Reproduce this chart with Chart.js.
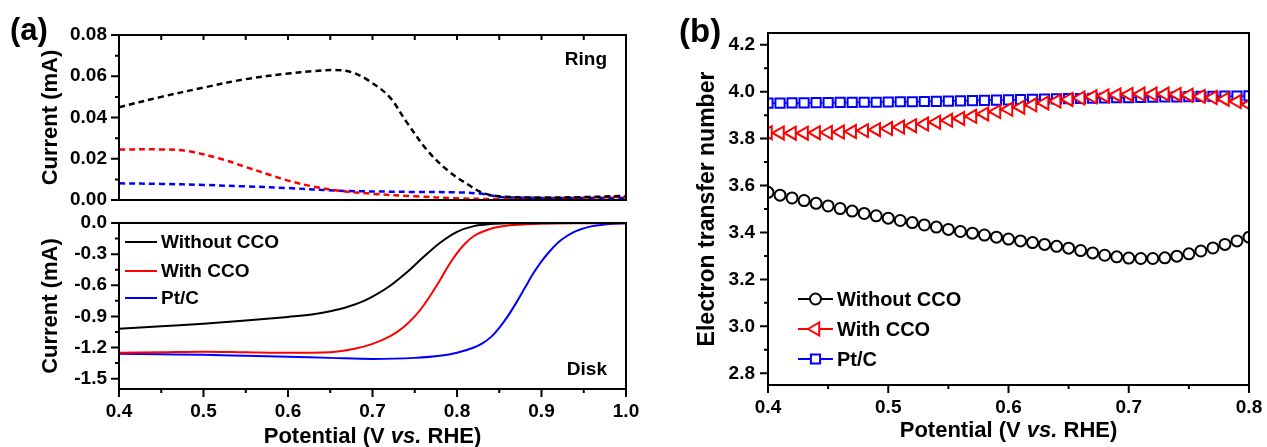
<!DOCTYPE html>
<html>
<head>
<meta charset="utf-8">
<title>RRDE</title>
<script src="https://cdn.jsdelivr.net/npm/chart.js@4.4.1/dist/chart.umd.min.js"></script>
<style>
  body { margin: 0; background: #fff; }
  #wrap { position: relative; width: 1267px; height: 447px; overflow: hidden; background: #fff; }
  canvas { position: absolute; }
  .panel { position: absolute; font-family: "Liberation Sans", Arial, sans-serif; font-weight: bold; color: #000; line-height: 1; }
</style>
</head>
<body>
<div id="wrap">
  <canvas id="ringChart" width="640" height="212" style="left:0;top:0"></canvas>
  <canvas id="diskChart" width="640" height="235" style="left:0;top:212px"></canvas>
  <canvas id="ntChart" width="627" height="447" style="left:640px;top:0"></canvas>
  <div class="panel" style="left:10px;top:14px;font-size:31px">(a)</div>
  <div class="panel" style="left:679px;top:14px;font-size:33px">(b)</div>
</div>
<script>
// series names and colours
const seriesNames = ['Without CCO', 'With CCO', 'Pt/C'];
const seriesColors = ['#000000', '#ff0000', '#0000ff'];

// ring current (mA), dashed
const ringBlackX = [0.40, 0.45, 0.50, 0.55, 0.60, 0.63, 0.655, 0.675, 0.695, 0.72, 0.74, 0.765, 0.79, 0.815, 0.83, 0.85, 0.90, 0.95, 1.00];
const ringBlackY = [0.045, 0.050, 0.0545, 0.0586, 0.0613, 0.0625, 0.063, 0.062, 0.058, 0.050, 0.038, 0.024, 0.014, 0.007, 0.0035, 0.0018, 0.0012, 0.0014, 0.002];
const ringRedX = [0.40, 0.45, 0.48, 0.52, 0.55, 0.58, 0.60, 0.63, 0.66, 0.70, 0.75, 0.80, 0.85, 0.90, 0.95, 1.00];
const ringRedY = [0.0245, 0.0245, 0.0238, 0.020, 0.016, 0.012, 0.0094, 0.0065, 0.0045, 0.003, 0.0018, 0.0008, 0.0005, 0.0008, 0.0012, 0.0015];
const ringBlueX = [0.40, 0.45, 0.50, 0.55, 0.60, 0.66, 0.75, 0.80, 0.83, 0.85, 0.90, 0.95, 1.00];
const ringBlueY = [0.0081, 0.0078, 0.0073, 0.0066, 0.0058, 0.0045, 0.0039, 0.0037, 0.003, 0.0015, 0.001, 0.001, 0.001];

// disk current (mA), solid
const diskBlackX = [0.40, 0.45, 0.50, 0.55, 0.60, 0.63, 0.65, 0.67, 0.69, 0.70, 0.72, 0.74, 0.76, 0.78, 0.80, 0.82, 0.84, 0.86, 0.90, 1.00];
const diskBlackY = [-1.02, -0.995, -0.97, -0.94, -0.905, -0.88, -0.85, -0.81, -0.75, -0.71, -0.61, -0.48, -0.33, -0.19, -0.085, -0.03, -0.01, -0.003, 0, 0];
const diskRedX = [0.40, 0.45, 0.50, 0.55, 0.60, 0.65, 0.68, 0.70, 0.72, 0.73, 0.74, 0.75, 0.76, 0.77, 0.78, 0.79, 0.80, 0.81, 0.82, 0.84, 0.86, 0.90, 0.95, 1.00];
const diskRedY = [-1.25, -1.245, -1.24, -1.245, -1.25, -1.245, -1.21, -1.165, -1.095, -1.045, -0.98, -0.90, -0.80, -0.68, -0.55, -0.41, -0.29, -0.195, -0.125, -0.055, -0.025, -0.008, -0.003, -0.002];
const diskBlueX = [0.40, 0.45, 0.50, 0.55, 0.60, 0.65, 0.70, 0.75, 0.78, 0.80, 0.82, 0.83, 0.84, 0.85, 0.86, 0.87, 0.88, 0.89, 0.90, 0.91, 0.92, 0.93, 0.94, 0.96, 0.98, 1.00];
const diskBlueY = [-1.26, -1.265, -1.27, -1.28, -1.29, -1.30, -1.31, -1.30, -1.28, -1.25, -1.20, -1.16, -1.10, -1.01, -0.90, -0.77, -0.63, -0.49, -0.37, -0.27, -0.185, -0.125, -0.08, -0.03, -0.01, -0.003];

// electron transfer number
const nPotential = [0.40, 0.41, 0.42, 0.43, 0.44, 0.45, 0.46, 0.47, 0.48, 0.49, 0.50, 0.51, 0.52, 0.53, 0.54, 0.55, 0.56, 0.57, 0.58, 0.59, 0.60,
                    0.61, 0.62, 0.63, 0.64, 0.65, 0.66, 0.67, 0.68, 0.69, 0.70, 0.71, 0.72, 0.73, 0.74, 0.75, 0.76, 0.77, 0.78, 0.79, 0.80];
const nBlack = [3.571, 3.559, 3.547, 3.536, 3.524, 3.513, 3.502, 3.491, 3.481, 3.471, 3.461, 3.451, 3.442, 3.432, 3.423, 3.413, 3.404, 3.397, 3.389, 3.380, 3.372,
                3.364, 3.357, 3.349, 3.341, 3.333, 3.323, 3.313, 3.303, 3.296, 3.291, 3.289, 3.289, 3.292, 3.299, 3.309, 3.321, 3.334, 3.349, 3.364, 3.380];
const nRed = [3.825, 3.824, 3.823, 3.823, 3.825, 3.826, 3.828, 3.830, 3.834, 3.838, 3.843, 3.849, 3.855, 3.862, 3.870, 3.878, 3.886, 3.895, 3.905, 3.915, 3.925,
              3.934, 3.944, 3.952, 3.960, 3.967, 3.973, 3.978, 3.982, 3.986, 3.988, 3.990, 3.990, 3.990, 3.988, 3.985, 3.980, 3.975, 3.968, 3.958, 3.945];
const nBlue = [3.951, 3.951, 3.952, 3.952, 3.953, 3.953, 3.954, 3.954, 3.955, 3.955, 3.956, 3.957, 3.957, 3.958, 3.959, 3.960, 3.961, 3.962, 3.963, 3.964, 3.965,
               3.966, 3.967, 3.968, 3.969, 3.970, 3.971, 3.972, 3.973, 3.974, 3.975, 3.976, 3.977, 3.978, 3.978, 3.979, 3.980, 3.980, 3.981, 3.981, 3.982];

// tick labels
const aXTicks = [0.4, 0.5, 0.6, 0.7, 0.8, 0.9, 1.0];
const ringYTicks = [0, 0.02, 0.04, 0.06, 0.08];
const diskYTicks = [0, -0.3, -0.6, -0.9, -1.2, -1.5];
const bXTicks = [0.4, 0.5, 0.6, 0.7, 0.8];
const bYTicks = [2.8, 3.0, 3.2, 3.4, 3.6, 3.8, 4.0, 4.2];

const FONT = '"Liberation Sans", Arial, sans-serif';

function pairs(xs, ys) {
    return xs.map((x, i) => ({ x: x, y: ys[i] }));
}

function midpoints(arr) {
    const out = [];
    for (let i = 0; i < arr.length - 1; i++) out.push((arr[i] + arr[i + 1]) / 2);
    return out;
}

// tick marks drawn by hand so minor ticks can be shorter
function drawTicks(chart, t) {
    const ctx = chart.ctx, a = chart.chartArea;
    const scale = chart.scales[t.axis];
    ctx.beginPath();
    t.values.forEach(v => {
        const p = scale.getPixelForValue(v);
        if (t.side === 'bottom') { ctx.moveTo(p, a.bottom); ctx.lineTo(p, a.bottom + t.len); }
        if (t.side === 'top') { ctx.moveTo(p, a.top); ctx.lineTo(p, a.top + t.len); }
        if (t.side === 'left') { ctx.moveTo(a.left, p); ctx.lineTo(a.left - t.len, p); }
    });
    ctx.stroke();
}

function drawMarker(ctx, style, x, y, r) {
    ctx.beginPath();
    if (style === 'circle') {
        ctx.arc(x, y, r, 0, Math.PI * 2);
    } else if (style === 'rect') {
        const s = r * Math.SQRT1_2;
        ctx.rect(x - s, y - s, 2 * s, 2 * s);
    } else {
        // triangle pointing left
        ctx.moveTo(x - r, y);
        ctx.lineTo(x + r / 2, y - r * 0.866);
        ctx.lineTo(x + r / 2, y + r * 0.866);
        ctx.closePath();
    }
    ctx.fill();
    ctx.stroke();
}

function decor(cfg) {
    return {
        id: 'decor',
        afterDatasetsDraw(chart) {
            const ctx = chart.ctx, a = chart.chartArea;
            ctx.save();
            ctx.strokeStyle = '#000';
            ctx.lineWidth = 2;
            ctx.strokeRect(a.left, a.top, a.right - a.left, a.bottom - a.top);
            (cfg.ticks || []).forEach(t => drawTicks(chart, t));

            ctx.fillStyle = '#000';
            (cfg.texts || []).forEach(t => {
                ctx.font = 'bold ' + t.size + 'px ' + FONT;
                ctx.textAlign = t.align || 'left';
                ctx.textBaseline = 'middle';
                ctx.fillText(t.text, t.x, t.y);
            });

            // axis title with italic "vs."
            if (cfg.xTitle) {
                const parts = [['Potential (V ', 'bold'], ['vs.', 'italic bold'], [' RHE)', 'bold']];
                const size = cfg.xTitle.size;
                let w = 0;
                parts.forEach(p => { ctx.font = p[1] + ' ' + size + 'px ' + FONT; w += ctx.measureText(p[0]).width; });
                let x = (a.left + a.right) / 2 - w / 2;
                ctx.textAlign = 'left';
                ctx.textBaseline = 'middle';
                parts.forEach(p => {
                    ctx.font = p[1] + ' ' + size + 'px ' + FONT;
                    ctx.fillText(p[0], x, cfg.xTitle.y);
                    x += ctx.measureText(p[0]).width;
                });
            }

            // legend
            if (cfg.legend) {
                const L = cfg.legend;
                chart.data.datasets.forEach((ds, i) => {
                    const y = L.y[i];
                    ctx.strokeStyle = ds.borderColor;
                    ctx.lineWidth = L.lineWidth;
                    ctx.setLineDash([]);
                    ctx.beginPath();
                    ctx.moveTo(L.x1, y);
                    ctx.lineTo(L.x2, y);
                    ctx.stroke();
                    if (L.markers) {
                        ctx.lineWidth = 2;
                        ctx.fillStyle = '#fff';
                        drawMarker(ctx, L.markers[i], (L.x1 + L.x2) / 2, y, L.markerSize[i]);
                    }
                    ctx.fillStyle = '#000';
                    ctx.font = 'bold ' + L.size + 'px ' + FONT;
                    ctx.textAlign = 'left';
                    ctx.textBaseline = 'middle';
                    ctx.fillText(ds.label, L.textX, y + 1);
                });
            }
            ctx.restore();
        }
    };
}

function tickFont() {
    return { family: FONT, weight: 'bold', size: 19 };
}

function linearAxis(min, max, ticks, digits, pad, extra) {
    return Object.assign({
        type: 'linear',
        min: min,
        max: max,
        grid: { display: false, drawTicks: false },
        border: { display: false },
        afterBuildTicks: s => { s.ticks = ticks.map(v => ({ value: v })); },
        ticks: {
            color: '#000',
            font: tickFont(),
            padding: pad,
            maxRotation: 0,
            callback: v => Number(v).toFixed(digits)
        }
    }, extra);
}

// fixed axis box sizes so the plot areas line up with the figure
function fixWidth(w) {
    return s => { s.width = w; s.paddingTop = 0; s.paddingBottom = 0; };
}
function fixHeight(h) {
    return s => { s.height = h; s.paddingLeft = 0; s.paddingRight = 0; };
}

const baseOptions = {
    responsive: false,
    animation: false,
    events: [],
    plugins: { legend: { display: false }, tooltip: { enabled: false } }
};

// (a) top: ring current
function initRingChart() {
    const data = [pairs(ringBlackX, ringBlackY), pairs(ringRedX, ringRedY), pairs(ringBlueX, ringBlueY)];
    new Chart(document.getElementById('ringChart'), {
        type: 'line',
        data: {
            datasets: data.map((d, i) => ({
                label: seriesNames[i],
                data: d,
                borderColor: seriesColors[i],
                borderWidth: 2.5,
                borderDash: [6, 4],
                pointRadius: 0,
                tension: 0.35,
                clip: 3
            }))
        },
        options: Object.assign({}, baseOptions, {
            layout: { padding: { top: 35, right: 14, bottom: 12, left: 0 } },
            scales: {
                x: linearAxis(0.4, 1.0, aXTicks, 1, 0, { display: false }),
                y: linearAxis(0, 0.08, ringYTicks, 2, 12, {
                    afterFit: fixWidth(119),
                    title: { display: true, text: 'Current (mA)', color: '#000', font: { family: FONT, weight: 'bold', size: 22 }, padding: { top: 38, bottom: 0 } }
                })
            }
        }),
        plugins: [decor({
            ticks: [
                { axis: 'y', side: 'left', values: ringYTicks, len: 8 },
                { axis: 'y', side: 'left', values: midpoints(ringYTicks), len: 4 },
                { axis: 'x', side: 'top', values: aXTicks.concat(midpoints(aXTicks)), len: 5 }
            ],
            texts: [{ text: 'Ring', x: 607, y: 60, size: 19, align: 'right' }]
        })]
    });
}

// (a) bottom: disk current
function initDiskChart() {
    const data = [pairs(diskBlackX, diskBlackY), pairs(diskRedX, diskRedY), pairs(diskBlueX, diskBlueY)];
    new Chart(document.getElementById('diskChart'), {
        type: 'line',
        data: {
            datasets: data.map((d, i) => ({
                label: seriesNames[i],
                data: d,
                borderColor: seriesColors[i],
                borderWidth: 2,
                pointRadius: 0,
                cubicInterpolationMode: 'monotone',
                clip: 3
            }))
        },
        options: Object.assign({}, baseOptions, {
            layout: { padding: { top: 11, right: 14, bottom: 0, left: 0 } },
            scales: {
                x: linearAxis(0.4, 1.0, aXTicks, 1, 11, { afterFit: fixHeight(58) }),
                y: linearAxis(-1.6, 0, diskYTicks, 1, 12, {
                    afterFit: fixWidth(119),
                    title: { display: true, text: 'Current (mA)', color: '#000', font: { family: FONT, weight: 'bold', size: 22 }, padding: { top: 38, bottom: 0 } }
                })
            }
        }),
        plugins: [decor({
            ticks: [
                { axis: 'y', side: 'left', values: diskYTicks, len: 8 },
                { axis: 'y', side: 'left', values: midpoints(diskYTicks), len: 4 },
                { axis: 'x', side: 'bottom', values: aXTicks, len: 8 },
                { axis: 'x', side: 'bottom', values: midpoints(aXTicks), len: 4 }
            ],
            texts: [{ text: 'Disk', x: 607, y: 158, size: 19, align: 'right' }],
            xTitle: { y: 225, size: 22 },
            legend: { x1: 125, x2: 157, textX: 161, y: [30, 59, 86], size: 19, lineWidth: 2 }
        })]
    });
}

// (b) electron transfer number
function initNumberChart() {
    const values = [nBlack, nRed, nBlue];
    const styles = ['circle', 'triangle', 'rect'];
    const sizes = [5.5, 7.5, 6.5];
    new Chart(document.getElementById('ntChart'), {
        type: 'line',
        data: {
            datasets: values.map((v, i) => ({
                label: seriesNames[i],
                data: pairs(nPotential, v),
                borderColor: seriesColors[i],
                borderWidth: 1.5,
                pointStyle: styles[i],
                rotation: i === 1 ? 270 : 0,
                pointRadius: sizes[i],
                pointBorderWidth: 2,
                pointBorderColor: seriesColors[i],
                pointBackgroundColor: '#ffffff',
                clip: 0
            }))
        },
        options: Object.assign({}, baseOptions, {
            layout: { padding: { top: 33, right: 18, bottom: 0, left: 0 } },
            scales: {
                x: linearAxis(0.4, 0.8, bXTicks, 1, 11, { afterFit: fixHeight(62) }),
                y: linearAxis(2.75, 4.25, bYTicks, 1, 13, {
                    afterFit: fixWidth(128),
                    title: { display: true, text: 'Electron transfer number', color: '#000', font: { family: FONT, weight: 'bold', size: 23 }, padding: { top: 54, bottom: 0 } }
                })
            }
        }),
        plugins: [decor({
            ticks: [
                { axis: 'y', side: 'left', values: bYTicks, len: 8 },
                { axis: 'y', side: 'left', values: midpoints(bYTicks), len: 4 },
                { axis: 'x', side: 'bottom', values: bXTicks, len: 8 },
                { axis: 'x', side: 'bottom', values: midpoints(bXTicks), len: 4 }
            ],
            xTitle: { y: 431, size: 22 },
            legend: { x1: 158, x2: 193, textX: 197, y: [299, 329, 359], size: 20, lineWidth: 2,
                      markers: styles, markerSize: sizes }
        })]
    });
}

initRingChart();
initDiskChart();
initNumberChart();
</script>
</body>
</html>
